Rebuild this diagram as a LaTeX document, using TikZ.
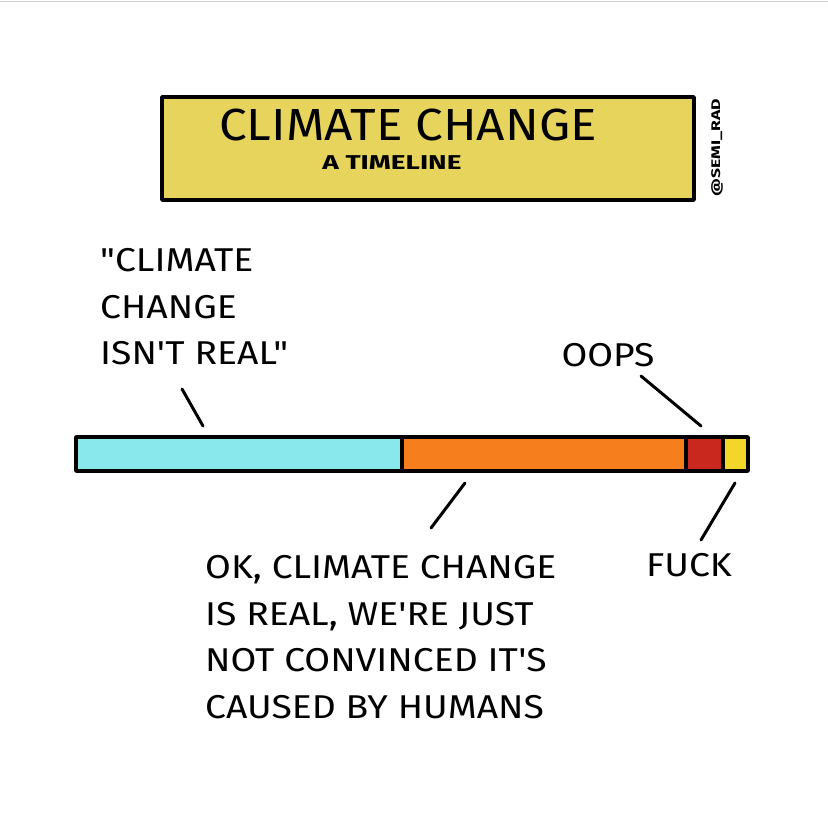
\documentclass[tikz,border=0pt]{standalone}
\usepackage{fontspec}
\setmainfont{Fira Sans}
\newfontfamily\handfont[FakeStretch=1.13]{Fira Sans}
\newfontfamily\titlefont[FakeStretch=1.1]{Fira Sans}
\newfontfamily\subfont[FakeStretch=1.4]{Fira Sans}
\definecolor{titleyel}{HTML}{E6D45C}
\definecolor{barcyan}{HTML}{88E8EC}
\definecolor{barorange}{HTML}{F77E1C}
\definecolor{barred}{HTML}{C8281E}
\definecolor{baryel}{HTML}{F2D62A}
\tikzset{
  ink/.style={line width=3.5pt, line cap=round, line join=round, draw=black},
  pointer/.style={line width=3pt, line cap=round, draw=black},
  label/.style={inner sep=0pt, align=left, text=black, font=\handfont\fontsize{33}{46.5}\selectfont},
}
\begin{document}
\begin{tikzpicture}[x=1pt,y=-1pt]
\useasboundingbox (0,0) rectangle (828,826);
\fill[white] (0,0) rectangle (828,826);
\draw[black!18, line width=1.5pt] (0,1.5) -- (828,1.5);
% title
\draw[ink, fill=titleyel] (162,97) rectangle (694,200);
\node[inner sep=0pt, anchor=base, font=\titlefont\fontsize{45}{45}\selectfont] (title) at (408,141) {CLIMATE CHANGE};
\node[inner sep=0pt, anchor=base, font=\subfont\bfseries\fontsize{20}{20}\selectfont] (sub) at (392,170) {A TIMELINE};
\node[inner sep=0pt, rotate=90, font=\subfont\bfseries\fontsize{12.5}{12.5}\selectfont] (sig) at (717,148) {@SEMI\_RAD};
% bar
\fill[barcyan] (76,437) rectangle (402,471);
\fill[barorange] (402,437) rectangle (686,471);
\fill[barred] (686,437) rectangle (723,471);
\fill[baryel] (723,437) rectangle (748,471);
\draw[ink] (402,437) -- (402,471);
\draw[ink] (686,437) -- (686,471);
\draw[ink] (723,437) -- (723,471);
\draw[ink] (76,437) rectangle (748,471);
\coordinate (p1) at (203,426);
\coordinate (p2) at (465,483);
\coordinate (p3) at (701,426);
\coordinate (p4) at (735,483);
% labels
\node[label, anchor=base west] (denial) at (100,365) {"CLIMATE\\CHANGE\\ISN'T REAL"};
\node[label, anchor=base] (oops) at (608,367) {OOPS};
\node[label, anchor=base] (fuck) at (689,576) {FUCK};
\node[label, anchor=base west] (ok) at (205,718) {OK, CLIMATE CHANGE\\IS REAL, WE'RE JUST\\NOT CONVINCED IT'S\\CAUSED BY HUMANS};
% pointers
\draw[pointer] (182,389) -- (p1);
\draw[pointer] (641,376) -- (p3);
\draw[pointer] (p2) -- (431,528);
\draw[pointer] (p4) -- (701,540);
\end{tikzpicture}
\end{document}
